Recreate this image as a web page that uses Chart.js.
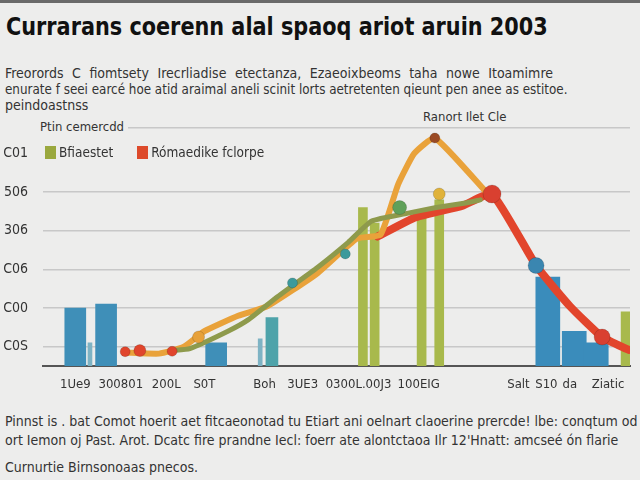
<!DOCTYPE html>
<html>
<head>
<meta charset="utf-8">
<script src="https://cdn.jsdelivr.net/npm/chart.js@4.4.1/dist/chart.umd.min.js"></script>
<style>
  html, body { margin: 0; padding: 0; }
  body {
    width: 640px; height: 480px; overflow: hidden; position: relative;
    background: #ededec; border-top: 3px solid #6a6a6a; box-sizing: border-box;
    font-family: "Liberation Sans Narrow", "DejaVu Sans Condensed", sans-serif; color: #333;
  }
  .txt { position: absolute; white-space: nowrap; left: 5px; }
  #title { left: 6px; top: 9px; font-size: 25px; font-weight: bold; color: #111;
           transform: scaleX(0.925); transform-origin: left center; }
  .intro { font-size: 14px; line-height: 16px; }
  .foot { font-size: 14px; line-height: 16px; }
  #chartBox { position: absolute; left: 0; top: 100px; width: 640px; height: 302px; }
  .lab { position: absolute; font-size: 13px; line-height: 15px; background: #ededec; padding: 0 4px; color: #333; }
  #legend { position: absolute; left: 45px; top: 141px; font-size: 13.5px; }
  #legend span.sw { display: inline-block; width: 11px; height: 13px; vertical-align: -2px; margin-right: 3px; }
</style>
</head>
<body>
<div id="title" class="txt">Currarans coerenn alal spaoq ariot aruin 2003</div>
<div class="txt intro" style="top:62px; width:548px; text-align:justify; text-align-last:justify;">Freorords C fiomtsety Irecrliadise etectanza, Ezaeoixbeoms taha nowe Itoamimre</div>
<div class="txt intro" style="top:78px; transform:scaleX(0.95); transform-origin:left center;">enurate f seei earcé hoe atid araimal aneli scinit lorts aetretenten qieunt pen anee as estitoe.</div>
<div class="txt intro" style="top:94px;">peindoastnss</div>

<div id="chartBox"><canvas id="chart"></canvas></div>

<div class="lab" style="left:36px; top:116px;">Ptin cemercdd</div>
<div class="lab" style="left:419px; top:106px; padding-right:14px;">Ranort Ilet Cle</div>
<div id="legend" class="txt"><span class="sw" style="background:#9aa83e"></span>Bfiaestet<span class="sw" style="background:#dd4a2a; margin-left:24px"></span>Rómaedike fclorpe</div>

<div class="txt foot" style="top:410px;">Pinnst is . bat Comot hoerit aet fitcaeonotad tu Etiart ani oelnart claoerine prercde! lbe: conqtum od oź</div>
<div class="txt foot" style="top:429px;">ort Iemon oj Past. Arot. Dcatc fire prandne Iecl: foerr ate alontctaoa Ilr 12'Hnatt: amcseé ón flarie</div>
<div class="txt foot" style="top:456px;">Curnurtie Birnsonoaas pnecos.</div>

<script>
// tick labels
const yTicks = [1, 2, 3, 4, 5, 6, 6.66];
const yTickLabels = ['C0S', 'C00', 'C06', '306', '506', 'C01', ''];
const xTicks = [1.1, 2.65, 4.2, 5.5, 7.55, 8.85, 10.75, 12.8, 16.2, 17.15, 17.95, 19.25];
const xTickLabels = ['1Ue9', '300801', '200L', 'S0T', 'Boh', '3UE3', '0300L.00J3', '100EIG', 'Salt', 'S10', 'da', 'Ziatic'];

// bar series
const blueBars = [{x: 1.1, y: 2.0}, {x: 2.15, y: 2.1}, {x: 5.9, y: 1.1}];
const blueBarsRight = [{x: 17.2, y: 2.8}, {x: 18.1, y: 1.4}, {x: 18.85, y: 1.1}];
const thinBars = [{x: 1.6, y: 1.1}, {x: 7.4, y: 1.2}];
const tealBars = [{x: 7.8, y: 1.75}];
const greenBars = [{x: 10.9, y: 4.6}, {x: 11.3, y: 4.2}, {x: 12.9, y: 4.5}, {x: 13.5, y: 4.8}, {x: 19.85, y: 1.9}];

// line series
const orangeLine = [
    {x: 2.8, y: 0.85}, {x: 3.95, y: 0.82}, {x: 4.8, y: 1.0}, {x: 5.5, y: 1.4}, {x: 6.65, y: 1.8},
    {x: 7.65, y: 2.05}, {x: 9.35, y: 2.9}, {x: 10.7, y: 3.8}, {x: 11.5, y: 3.9}, {x: 12.1, y: 5.2},
    {x: 12.65, y: 6.0}, {x: 13.35, y: 6.4}, {x: 15.1, y: 5.0}
];
const redLine = [
    {x: 11.4, y: 3.85}, {x: 12.7, y: 4.35}, {x: 14.3, y: 4.65}, {x: 15.3, y: 4.95},
    {x: 16.8, y: 3.1}, {x: 17.95, y: 2.05}, {x: 19.05, y: 1.25}, {x: 19.95, y: 0.92}
];
const oliveLine = [
    {x: 4.4, y: 0.9}, {x: 5.0, y: 0.95}, {x: 6.3, y: 1.4}, {x: 7.0, y: 1.7}, {x: 8.0, y: 2.3},
    {x: 9.35, y: 3.05}, {x: 10.4, y: 3.7}, {x: 11.2, y: 4.25}, {x: 12.4, y: 4.45},
    {x: 13.4, y: 4.6}, {x: 14.4, y: 4.72}, {x: 14.9, y: 4.8}
];
// loose markers
const dots = [
    {x: 2.8, y: 0.87}, {x: 3.3, y: 0.9}, {x: 4.4, y: 0.88}, {x: 5.3, y: 1.25},
    {x: 8.5, y: 2.65}, {x: 10.3, y: 3.4}, {x: 12.15, y: 4.6}, {x: 13.5, y: 4.95}, {x: 15.3, y: 4.95},
    {x: 16.8, y: 3.1}, {x: 19.05, y: 1.25}, {x: 13.35, y: 6.4}
];
const dotColors = ['#e0452c', '#e0452c', '#e0452c', '#e7a13a', '#3c9a9c', '#3c9a9c', '#5fa05a',
                   '#e0b23a', '#d94030', '#3a86b0', '#d94030', '#9a4a24'];
const dotSizes = [5, 6, 5, 6, 5, 5, 7, 6, 9, 8, 8, 5];

const labelFont = { family: '"Liberation Sans Narrow", "DejaVu Sans Condensed", sans-serif', size: 14 };

function barSet(data, color, width) {
    return { type: 'bar', data: data, backgroundColor: color, barThickness: width,
             grouped: false, order: 5 };
}
function lineSet(data, color, width) {
    return { type: 'line', data: data, borderColor: color, borderWidth: width,
             pointRadius: 0, tension: 0.15, borderCapStyle: 'round', borderJoinStyle: 'round', order: 2 };
}

const ctx = document.getElementById('chart').getContext('2d');
const myChart = new Chart(ctx, {
    data: {
        datasets: [
            lineSet(oliveLine, '#8e9a4c', 5),
            lineSet(orangeLine, '#e9a23a', 6),
            lineSet(redLine, '#e2452c', 8),
            { type: 'scatter', data: dots, backgroundColor: dotColors, pointRadius: dotSizes,
              borderColor: 'rgba(0,0,0,0.15)', borderWidth: 1, order: 1 },
            barSet(blueBars, '#3f8fb8', 21),
            barSet(blueBarsRight, '#3a8cbb', 24),
            barSet(thinBars, '#7eb3c4', 4),
            barSet(tealBars, '#4ea3aa', 12),
            barSet(greenBars, '#a8b94c', 9)
        ]
    },
    options: {
        responsive: true,
        maintainAspectRatio: false,
        animation: false,
        layout: { padding: { top: 0, right: 5, left: 0, bottom: 0 } },
        plugins: { legend: { display: false }, tooltip: { enabled: false } },
        scales: {
            x: {
                type: 'linear', min: 0, max: 20, offset: false,
                afterBuildTicks: axis => { axis.ticks = xTicks.map(v => ({ value: v })); },
                afterFit: scale => { scale.height = 39; },
                grid: { display: false },
                border: { display: true, color: '#555', width: 2 },
                ticks: {
                    autoSkip: false, maxRotation: 0, padding: 3, color: '#333',
                    font: { family: labelFont.family, size: 13 },
                    callback: (v, i) => xTickLabels[i]
                }
            },
            y: {
                min: 0.5, max: 6.7,
                afterBuildTicks: axis => { axis.ticks = yTicks.map(v => ({ value: v })); },
                afterFit: scale => { scale.width = 43; },
                grid: {
                    drawTicks: false, lineWidth: 1.5,
                    color: c => (c.tick && (c.tick.value === 6)) ? 'rgba(0,0,0,0)' : '#c8c8c8'
                },
                border: { display: false },
                ticks: {
                    autoSkip: false, padding: 15, color: '#333', font: labelFont,
                    callback: (v, i) => yTickLabels[i]
                }
            }
        }
    }
});
</script>
</body>
</html>
